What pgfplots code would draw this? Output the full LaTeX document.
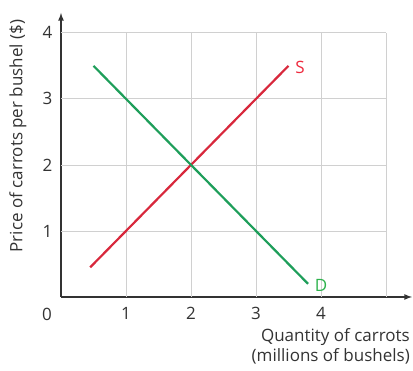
\documentclass[border=0pt]{standalone}
\usepackage{pgfplots}
\pgfplotsset{compat=1.18}
\usepackage{fontspec}
\setmainfont{Open Sans}
\definecolor{txt}{HTML}{333333}
\definecolor{gridc}{HTML}{D0D0D0}
\definecolor{supred}{HTML}{D8283C}
\definecolor{demgreen}{HTML}{1E9E5A}
\definecolor{slab}{HTML}{EE2A3E}
\definecolor{dlab}{HTML}{2DB24C}
\begin{document}
\begin{tikzpicture}[font=\fontsize{17}{20}\selectfont, text=txt]
\begin{axis}[
	at={(0,0)}, anchor=south west,
	scale only axis,
	width=351pt, height=284pt,
	xmin=0, xmax=5.4, ymin=0, ymax=4.3,
	axis lines=left,
	axis line style={txt, line width=1.6pt, -latex},
	xtick={1,2,3,4}, ytick={1,2,3,4},
	major tick length=0pt,
	tick label style={font=\fontsize{17}{20}\selectfont},
	xticklabel style={yshift=-7pt},
	yticklabel style={xshift=-5pt},
	/pgf/number format/assume math mode=true,
	clip=false,
]
	\pgfplotsinvokeforeach{1,...,5}{
		\draw[gridc, line width=0.8pt] (axis cs:#1,0) -- (axis cs:#1,4);
	}
	\pgfplotsinvokeforeach{1,...,4}{
		\draw[gridc, line width=0.8pt] (axis cs:0,#1) -- (axis cs:5,#1);
	}
	% supply
	\addplot[supred, line width=2.2pt, no markers] coordinates {(0.45,0.45) (3.5,3.5)};
	% demand
	\addplot[demgreen, line width=2.2pt, no markers] coordinates {(0.5,3.5) (3.8,0.2)};
	\node[slab, anchor=west] at (axis cs:3.55,3.47) {S};
	\node[dlab, anchor=west] at (axis cs:3.85,0.18) {D};
\end{axis}
\node at (-14pt,-17pt) {0};
\node[rotate=90] at (-43pt,161pt) {Price of carrots per bushel (\$)};
\node[anchor=north east, align=right, inner sep=0pt] at (349pt,-31pt) {Quantity of carrots\\(millions of bushels)};
\pgfresetboundingbox
\useasboundingbox (-61pt,-74pt) rectangle (352pt,297pt);
\end{tikzpicture}
\end{document}
